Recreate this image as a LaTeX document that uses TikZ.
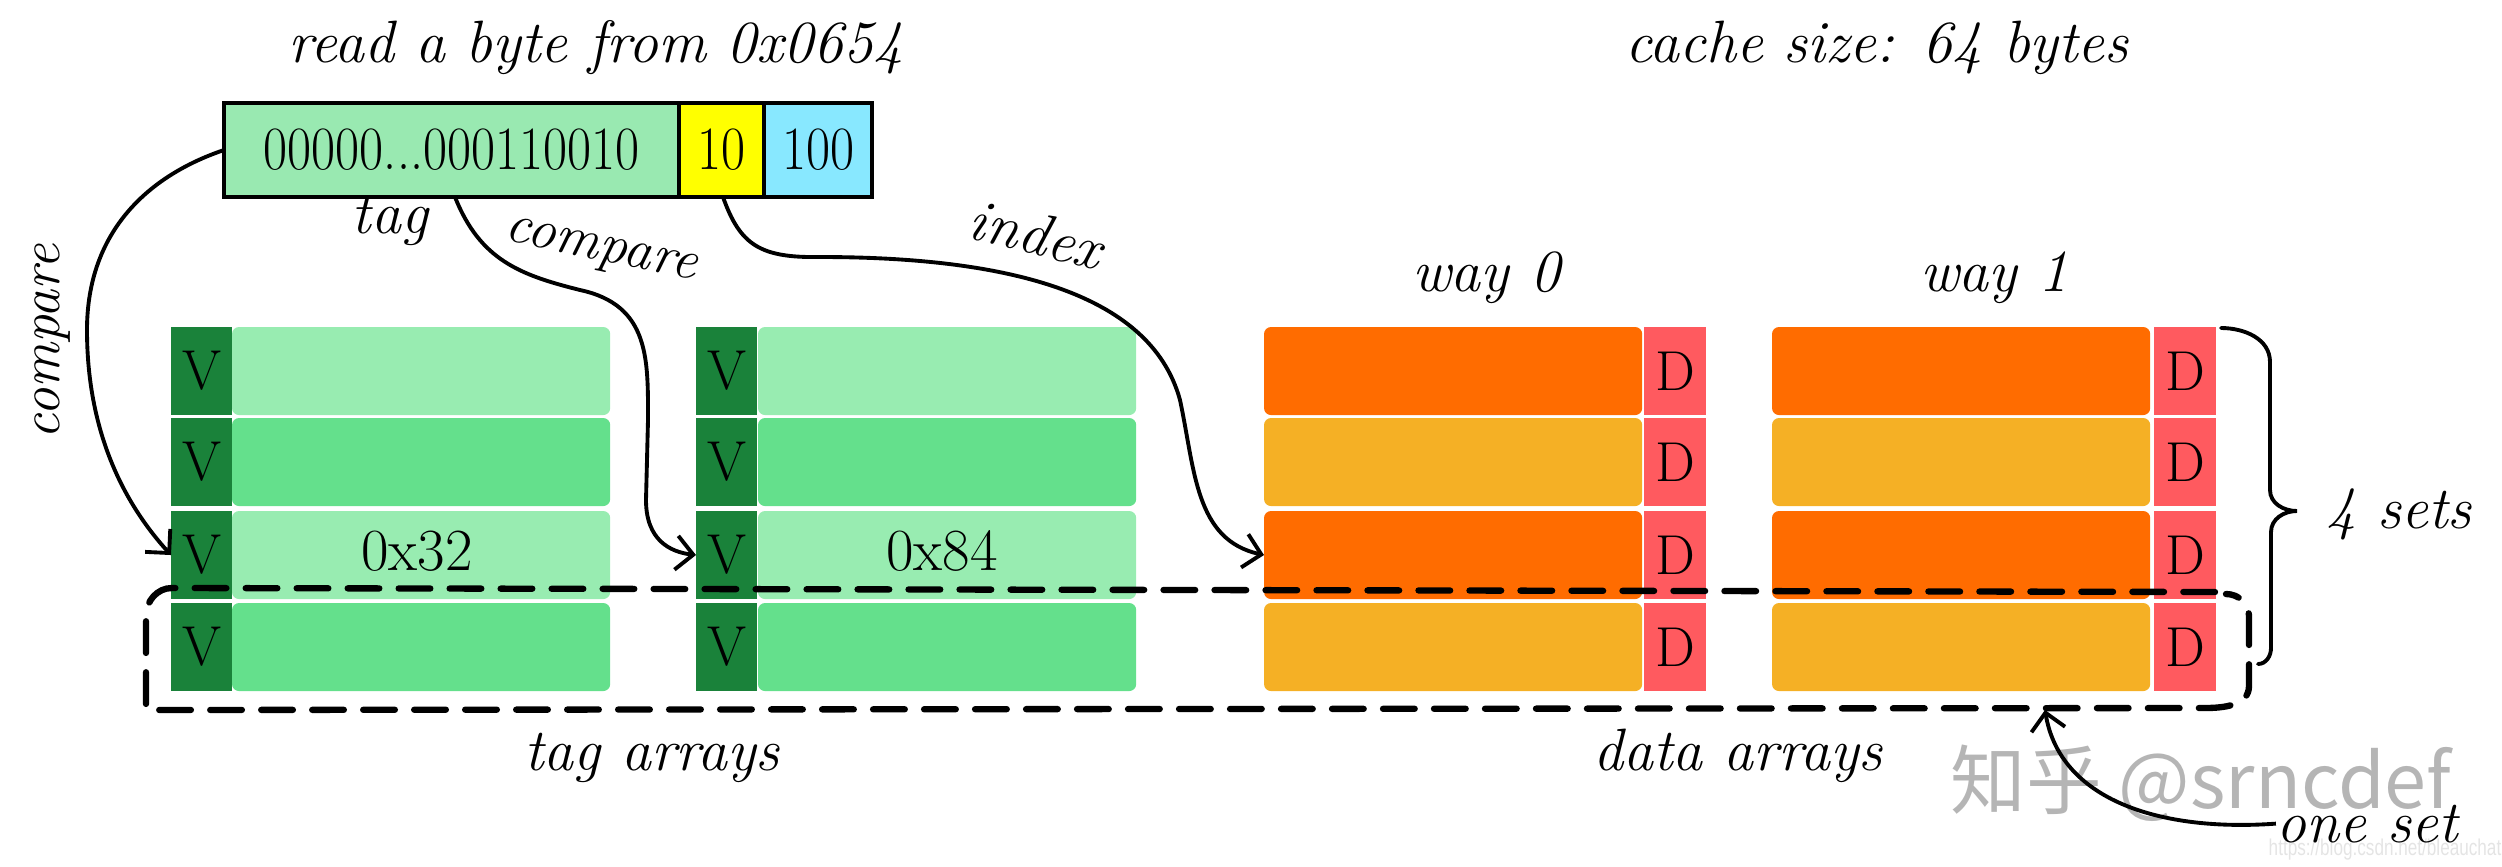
\documentclass[tikz,border=0pt]{standalone}
\usepackage{fontspec}
\newfontfamily\cjkfont{Noto Sans CJK SC}
\newfontfamily\wmfont{Liberation Sans}
\usetikzlibrary{arrows.meta}
\definecolor{addrgreen}{HTML}{99E9B1}
\definecolor{addryellow}{HTML}{FFFF00}
\definecolor{addrblue}{HTML}{88E8FF}
\definecolor{vgreen}{HTML}{1A823A}
\definecolor{lightg}{HTML}{98ECB1}
\definecolor{midg}{HTML}{64E08C}
\definecolor{orangeA}{HTML}{FF6C00}
\definecolor{amberA}{HTML}{F5B025}
\definecolor{dred}{HTML}{FF5A5F}
\definecolor{wmgray}{HTML}{B5B5B5}
\definecolor{wmlight}{HTML}{E4E4E4}
\newcommand{\narrowtxt}[1]{\scalebox{0.85}[1]{#1}}
\tikzset{
  hand/.style={font=\fontsize{17}{20}\selectfont\itshape, inner sep=0pt},
  cell/.style={inner sep=0pt, outer sep=0pt, anchor=north west, minimum height=0.88cm},
  vcell/.style={cell, fill=vgreen, minimum width=0.61cm, font=\fontsize{16}{18}\selectfont},
  dcell/.style={cell, fill=dred, minimum width=0.62cm, font=\fontsize{16}{18}\selectfont},
  rowcell/.style={cell, minimum width=3.78cm, rounded corners=0.07cm, font=\fontsize{16}{18}\selectfont},
  addrbox/.style={draw=black, line width=1pt, inner sep=0pt, outer sep=0pt, anchor=north west,
    minimum height=0.94cm, font=\fontsize{17.5}{20}\selectfont},
  arr/.style={line width=1.1pt, -{Straight Barb[length=0.17cm,width=0.34cm]}},
  dashbox/.style={line width=1.8pt, dash pattern=on 9pt off 5.5pt, line cap=round},
  bracestyle/.style={line width=1.1pt, line cap=round}
}
\begin{document}
\begin{tikzpicture}[x=0.01cm,y=0.01cm]
\useasboundingbox (0,0) rectangle (2502,-866);

% titles
\node[hand, anchor=base] (title) at (596,-62) {read a byte from 0x0654};
\node[hand, anchor=base] (csize) at (1877,-62) {cache size: 64 bytes};

% address
\node[addrbox, fill=addrgreen, minimum width=4.55cm] (tagf) at (224,-103) {\narrowtxt{00000...000110010}};
\node[addrbox, fill=addryellow, minimum width=0.85cm] (idxf) at (679,-103) {\narrowtxt{10}};
\node[addrbox, fill=addrblue, minimum width=1.08cm] (offf) at (764,-103) {\narrowtxt{100}};
\coordinate (tagout) at (455,-197);
\coordinate (idxout) at (723,-197);

% labels
\node[hand, anchor=base] (taglbl) at (390,-233) {tag};
\node[hand, font=\fontsize{16}{18}\selectfont\itshape, rotate=90] (cmpL) at (53,-342) {compare};
\node[hand, font=\fontsize{16}{18}\selectfont\itshape, rotate=-12] (cmpM) at (600,-253) {compare};
\node[hand, rotate=-14] (idxlbl) at (1036,-234) {index};
\node[hand, anchor=base] (way0) at (1486,-291) {way 0};
\node[hand, anchor=base] (way1) at (1994,-291) {way 1};

% arrays
\foreach \i/\y/\tc/\dc in {1/327/lightg/orangeA, 2/418/midg/amberA, 3/511/lightg/orangeA, 4/603/midg/amberA} {
  \node[vcell] (t1v\i) at (171,-\y) {V};
  \node[rowcell, fill=\tc] (t1d\i) at (232,-\y) {};
  \node[vcell] (t2v\i) at (696,-\y) {V};
  \node[rowcell, fill=\tc] (t2d\i) at (758,-\y) {};
  \node[rowcell, fill=\dc] (w0d\i) at (1264,-\y) {};
  \node[dcell] (w0f\i) at (1644,-\y) {D};
  \node[rowcell, fill=\dc] (w1d\i) at (1772,-\y) {};
  \node[dcell] (w1f\i) at (2154,-\y) {D};
}
\node[font=\fontsize{17}{19}\selectfont] (v32) at (417,-551) {0x32};
\node[font=\fontsize{17}{19}\selectfont] (v84) at (942,-551) {0x84};

% dashed set box
\draw[dashbox] (2215,-592) -- (172,-588) to[out=180,in=90] (146,-616) -- (146,-710) -- (2205,-708) to[out=0,in=-90] (2249,-686) -- (2249,-616) to[out=90,in=0] (2226,-594);

% brace
\draw[bracestyle] (2221,-328) to[out=0,in=90] (2270,-362) -- (2270,-490) to[out=-90,in=180] (2297,-511)
  to[out=180,in=90] (2271,-532) -- (2271,-648) to[out=-90,in=0] (2258,-664);
\node[hand, anchor=base] (sets) at (2399,-528) {4 sets};

% bottom labels
\node[hand, anchor=base] (tagarr) at (652,-770) {tag arrays};
\node[hand, anchor=base] (datarr) at (1738,-770) {data arrays};

% watermarks
\node[font=\cjkfont\fontsize{21.5}{24}\selectfont, text=wmgray, inner sep=0pt] (wm) at (2201,-783) {知乎 @srncdef};
\node[font=\wmfont\fontsize{6.5}{7}\selectfont, text=wmlight, inner sep=0pt] (wm2) at (2385,-850) {\scalebox{0.75}[1]{https://blog.csdn.net/bleauchat}};

\node[hand, anchor=base] (oneset) at (2367,-842) {one set};
\coordinate (setpt) at (2045,-710);

% connectors
\draw[arr] (tagf.west) .. controls (150,-175) and (87,-230) .. (87,-330)
  .. controls (87,-440) and (130,-510) .. (t1v3.west);
\draw[arr] (tagout) .. controls (480,-260) and (520,-275) .. (580,-290)
  .. controls (650,-305) and (648,-360) .. (648,-420) -- (646,-500)
  .. controls (646,-540) and (670,-552) .. (t2v3.west);
\draw[arr] (idxout) .. controls (740,-245) and (760,-258) .. (820,-257)
  .. controls (1000,-257) and (1150,-290) .. (1180,-400)
  .. controls (1195,-470) and (1195,-540) .. (w0d3.west);
\draw[arr] (oneset.west) .. controls (2160,-832) and (2060,-800) .. (setpt);
\end{tikzpicture}
\end{document}
